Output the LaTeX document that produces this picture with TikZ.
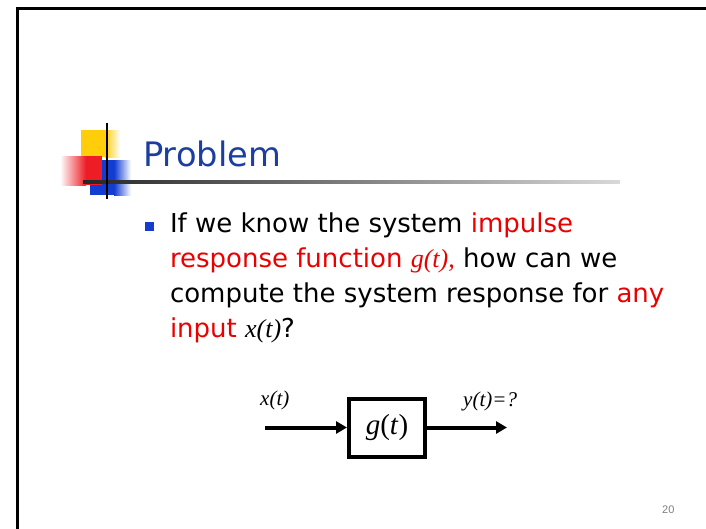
\documentclass[tikz,border=0pt]{standalone}
\usepackage{fontspec}
\setmainfont{DejaVu Sans}
\newfontfamily\tms{Liberation Serif}
\newfontfamily\arl{Liberation Sans}
\usetikzlibrary{arrows.meta}
\definecolor{ttlblue}{RGB}{28,62,160}
\definecolor{bulblue}{RGB}{20,60,205}
\definecolor{logoyel}{RGB}{255,205,10}
\definecolor{logored}{RGB}{238,28,36}
\definecolor{logoblue}{RGB}{18,60,210}
\definecolor{txtred}{RGB}{235,0,0}
\tikzset{
  line/.style={anchor=base west, inner sep=0pt, outer sep=0pt, font=\fontsize{26}{35}\selectfont},
  sysbox/.style={draw, line width=4pt, minimum width=76pt, minimum height=58pt, inner sep=0pt},
  sig/.style={line width=4pt, -{Triangle[length=11pt,width=12pt]}},
  lbl/.style={anchor=base west, inner sep=0pt, font=\tms\itshape\fontsize{21}{24}\selectfont}
}
\newcommand{\mi}[1]{{\tms\itshape #1}}
\begin{document}
\begin{tikzpicture}[x=1pt,y=-1pt]
\fill[white] (0,0) rectangle (706,528);
\useasboundingbox (0,0) rectangle (706,528);
% slide frame
\draw[line width=3pt] (17.5,540) -- (17.5,8.3) -- (720,8.3);
% logo
\fill[logoyel] (81,130) rectangle (105,157);
\shade[left color=logoyel, right color=white] (105,130) rectangle (120,157);
\fill[logoblue] (90,160) rectangle (114,195);
\shade[left color=logoblue, right color=white] (114,160) rectangle (131,195);
\shade[left color=white, right color=logored] (60,156) rectangle (86,185);
\fill[logored] (86,156) rectangle (102,185);
\shade[left color=black!85, right color=black!15] (83,180.5) rectangle (620,183);
\draw[line width=2pt] (107.3,123) -- (107.3,199);
% title
\node[anchor=base west, inner sep=0pt, text=ttlblue, font=\fontsize{33.7}{40}\selectfont] (title) at (143,166.7) {Problem};
% bullet
\fill[bulblue] (145,222) rectangle (154,230.5);
\node[line] (l1) at (170,232) {If we know the system \textcolor{txtred}{impulse}};
\node[line] (l2) at (170,267) {\textcolor{txtred}{response function \mi{g(t),}} how can we};
\node[line] (l3) at (170,302) {compute the system response for \textcolor{txtred}{any}};
\node[line] (l4) at (170,337) {\textcolor{txtred}{input} \mi{x(t)}?};
% block diagram
\node[sysbox] (g) at (387,427.5) {\tms\fontsize{29}{32}\selectfont\textit{g}(\textit{t})};
\coordinate (in) at (265,427.5);
\coordinate (out) at (507,427.5);
\draw[sig] (in) -- (g.west);
\draw[sig] (g.east) -- (out);
\node[lbl] (xl) at (260,405) {x(t)};
\node[lbl] (yl) at (463,406.5) {y(t)=?};
% page number
\node[anchor=base west, inner sep=0pt, text=black!50, font=\arl\fontsize{11}{13}\selectfont] (pn) at (662,513) {20};
\end{tikzpicture}
\end{document}
